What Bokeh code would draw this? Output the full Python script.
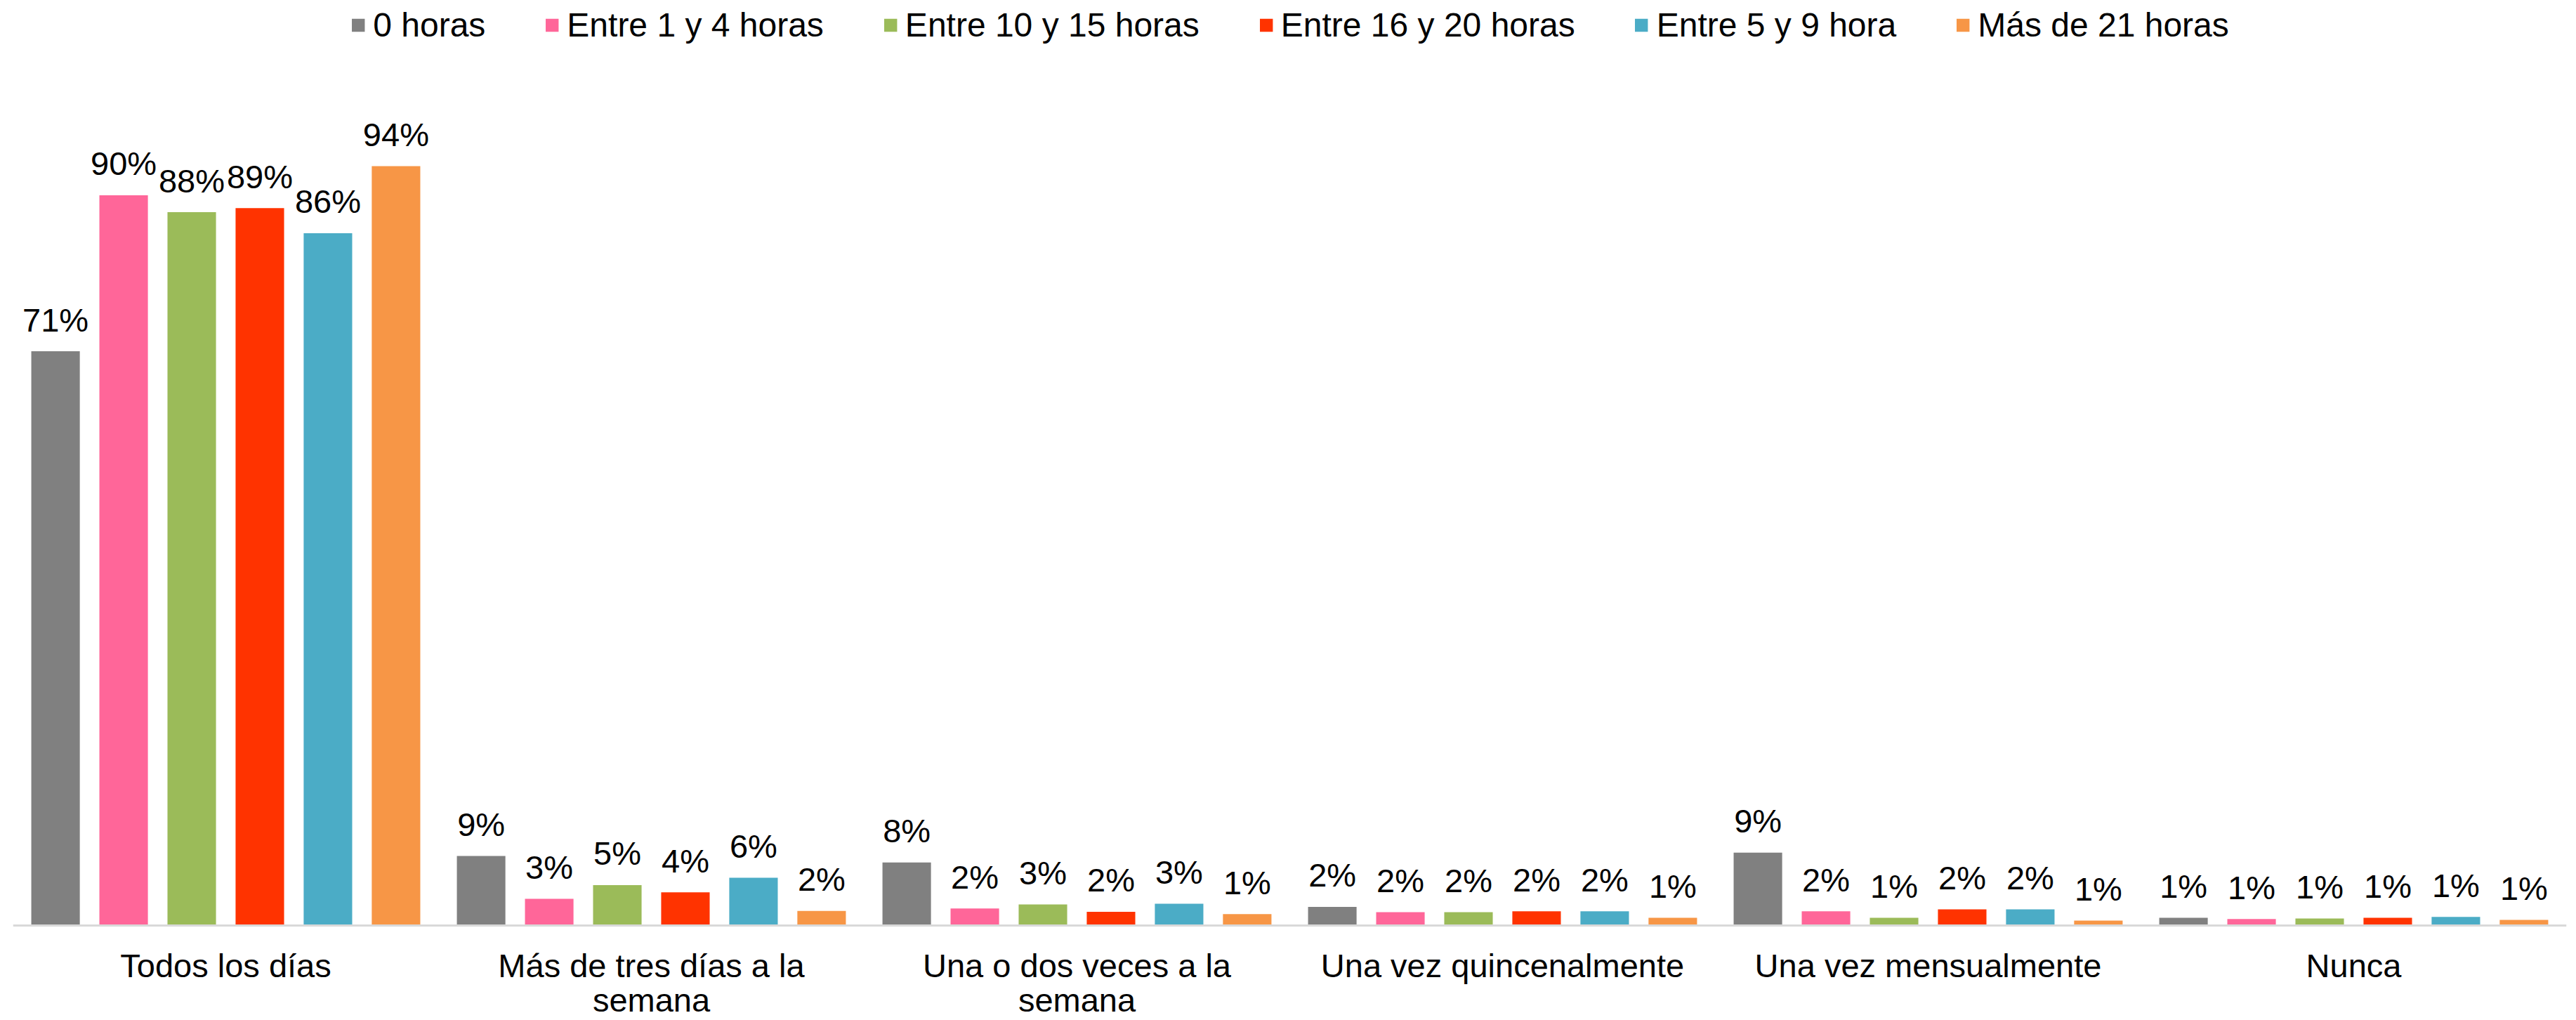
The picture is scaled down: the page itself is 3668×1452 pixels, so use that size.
from bokeh.plotting import figure
from bokeh.models import ColumnDataSource, FactorRange, Range1d, Legend, Span
from bokeh.transform import dodge
from bokeh.core.properties import value
from bokeh.embed import file_html
from bokeh.resources import INLINE

categories = ["Todos los días", "Más de tres días a la semana", "Una o dos veces a la semana",
              "Una vez quincenalmente", "Una vez mensualmente", "Nunca"]
label_line1 = ["Todos los días", "Más de tres días a la", "Una o dos veces a la",
               "Una vez quincenalmente", "Una vez mensualmente", "Nunca"]
label_line2 = ["", "semana", "semana", "", "", ""]

series_names = ["0 horas", "Entre 1 y 4 horas", "Entre 10 y 15 horas",
                "Entre 16 y 20 horas", "Entre 5 y 9 hora", "Más de 21 horas"]
s_0h = [71.0, 8.6, 7.8, 2.3, 9.0, 0.96]
s_1_4 = [90.3, 3.3, 2.1, 1.65, 1.75, 0.8]
s_10_15 = [88.2, 5.0, 2.6, 1.65, 0.96, 0.87]
s_16_20 = [88.7, 4.1, 1.7, 1.75, 2.0, 0.96]
s_5_9 = [85.6, 5.9, 2.7, 1.75, 2.0, 1.05]
s_21 = [93.9, 1.8, 1.4, 0.96, 0.6, 0.7]
series_values = [s_0h, s_1_4, s_10_15, s_16_20, s_5_9, s_21]
colors = ["#808080", "#FF6699", "#9BBB59", "#FF3300", "#4BACC6", "#F79646"]

FONT = "Liberation Sans"
FS = "47px"

p = figure(x_range=FactorRange(*categories, range_padding=0), y_range=Range1d(-11.73, 113.7),
           width=3660, height=1452, output_backend="svg", toolbar_location=None,
           x_axis_location=None, y_axis_location=None,
           min_border_left=18, min_border_right=6, min_border_top=8, min_border_bottom=0)
p.outline_line_color = None
p.xgrid.visible = False
p.ygrid.visible = False

slot = 0.16
bw = 0.114
renderers = []
for i, (name, vals, col) in enumerate(zip(series_names, series_values, colors)):
    src = ColumnDataSource(dict(cat=categories, val=vals,
                                lab=[f"{round(v)}%" for v in vals]))
    off = (i - 2.5) * slot
    r = p.vbar(x=dodge("cat", off, range=p.x_range), top="val", width=bw, source=src,
               fill_color=col, line_color=None)
    renderers.append((name, [r]))
    p.text(x=dodge("cat", off, range=p.x_range), y="val", text="lab", source=src,
           text_align="center", text_baseline="alphabetic", y_offset=-45,
           text_font=value(FONT), text_font_size=FS, text_color="black")

# category axis baseline and labels
p.add_layout(Span(location=0, dimension="width", line_color="#d9d9d9", line_width=3))
cat_src = ColumnDataSource(dict(cat=categories, zero=[0] * len(categories),
                                l1=label_line1, l2=label_line2))
p.text(x="cat", y="zero", text="l1", source=cat_src, text_align="center",
       text_baseline="middle", y_offset=57, text_font=value(FONT), text_font_size=FS,
       text_color="black")
p.text(x="cat", y="zero", text="l2", source=cat_src, text_align="center",
       text_baseline="middle", y_offset=106, text_font=value(FONT), text_font_size=FS,
       text_color="black")

legend = Legend(items=renderers, orientation="horizontal", location="top_center",
                border_line_color=None, background_fill_alpha=0,
                label_text_font=FONT, label_text_font_size="48px", label_text_color="black",
                glyph_width=23, glyph_height=23, label_standoff=10, spacing=83,
                margin=0, padding=5)
p.add_layout(legend, "center")

open("out.html", "w").write(file_html(p, INLINE))
